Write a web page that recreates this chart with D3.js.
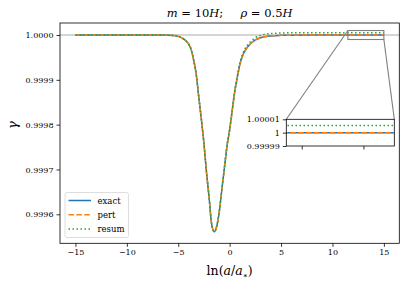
<!DOCTYPE html>
<html>
<head>
<meta charset="utf-8">
<script src="https://cdn.jsdelivr.net/npm/d3@7"></script>
<style>
  body { margin: 0; background: #fff; }
</style>
</head>
<body>
<script>
// data
var lnA = [-15, -10, -7, -6, -5.5, -5, -4.5, -4, -3.75, -3.5, -3.25, -3, -2.75, -2.5, -2.25, -2,
    -1.75, -1.5, -1.25, -1, -0.75, -0.5, -0.25, 0, 0.25, 0.5, 0.75, 1, 1.25, 1.5, 2, 2.5, 3, 4, 5, 6, 8, 10, 12, 15];
var exact = [1.0, 1.0, 0.9999999, 0.9999997, 0.999999, 0.999997, 0.9999915, 0.99998, 0.999968, 0.999944,
    0.999912, 0.999861, 0.999812, 0.999758, 0.999693, 0.999638, 0.999578, 0.999561, 0.999574, 0.999607,
    0.999657, 0.999705, 0.999753, 0.999788, 0.999831, 0.999874, 0.999906, 0.999935, 0.999953, 0.999965,
    0.99998, 0.999989, 0.999994, 0.999998, 0.9999992, 0.9999997, 0.9999999, 1.0, 1.0, 1.0];
var pert = [1.0, 1.0, 0.9999999, 0.9999997, 0.999999, 0.999997, 0.9999915, 0.99998, 0.999968, 0.999944,
    0.999912, 0.999861, 0.999812, 0.999758, 0.999693, 0.999638, 0.999578, 0.999561, 0.999574, 0.999607,
    0.999657, 0.999705, 0.999753, 0.999788, 0.999831, 0.999874, 0.999906, 0.999935, 0.999953, 0.999965,
    0.99998, 0.999989, 0.999994, 0.999998, 0.9999992, 0.9999997, 0.9999999, 1.0, 1.0, 1.0];
var resum = [1.0, 1.0, 0.9999999, 0.9999997, 0.999999, 0.999997, 0.9999915, 0.99998, 0.999968, 0.999944,
    0.999912, 0.999861, 0.999812, 0.999758, 0.999693, 0.999638, 0.9995781, 0.9995613, 0.9995745, 0.9996078,
    0.999658, 0.9997063, 0.9997547, 0.99979, 0.9998334, 0.9998768, 0.9999092, 0.9999386, 0.9999569, 0.9999692,
    0.9999846, 0.9999939, 0.9999991, 1.0000032, 1.0000045, 1.000005, 1.0000052, 1.0000053, 1.0000053, 1.0000053];
var xTicks = [-15, -10, -5, 0, 5, 10, 15];
var yTicks = [0.9996, 0.9997, 0.9998, 0.9999, 1.0];
var insetYTicks = [0.99999, 1.0, 1.00001];
var insetYLabels = ['0.99999', '1', '1.00001'];
var insetXTicks = [12, 14];

var series = [
    { name: 'exact', values: exact, color: '#1f77b4', dash: null },
    { name: 'pert', values: pert, color: '#ff7f0e', dash: '5.5,2.4' },
    { name: 'resum', values: resum, color: '#2ca02c', dash: '1.5,2.5' }
];

var FONT = 'DejaVu Serif';
var width = 407, height = 285;
var L = 60, R = 399.3, T = 23, B = 243.3;

var svg = d3.select('body').append('svg')
    .attr('width', width)
    .attr('height', height)
    .style('font-family', FONT);

var x = d3.scaleLinear().domain([-16.5, 16.5]).range([L, R]);
var y = d3.scaleLinear().domain([0.9995353, 1.0000268]).range([B, T]);

svg.append('clipPath').attr('id', 'clip')
    .append('rect').attr('x', L).attr('y', T).attr('width', R - L).attr('height', B - T);

// reference line at 1
svg.append('line')
    .attr('x1', L).attr('x2', R)
    .attr('y1', y(1)).attr('y2', y(1))
    .attr('stroke', '#a0a0a0').attr('stroke-width', 0.9);

var line = d3.line()
    .x(function (d) { return x(d[0]); })
    .y(function (d) { return y(d[1]); })
    .curve(d3.curveMonotoneX);

var plot = svg.append('g').attr('clip-path', 'url(#clip)');
series.forEach(function (s) {
    plot.append('path')
        .attr('d', line(d3.zip(lnA, s.values)))
        .attr('fill', 'none')
        .attr('stroke', s.color)
        .attr('stroke-width', 1.5)
        .attr('stroke-dasharray', s.dash);
});

// axes
var xAxis = svg.append('g')
    .attr('transform', 'translate(0,' + B + ')')
    .call(d3.axisBottom(x).tickValues(xTicks).tickSize(3.5).tickPadding(3)
        .tickFormat(function (d) { return d < 0 ? '\u2212' + Math.abs(d) : d; }));
var yAxis = svg.append('g')
    .attr('transform', 'translate(' + L + ',0)')
    .call(d3.axisLeft(y).tickValues(yTicks).tickSize(3.5).tickPadding(3)
        .tickFormat(d3.format('.4f')));
[xAxis, yAxis].forEach(function (a) {
    a.attr('font-family', null).style('font-family', FONT);
    a.select('.domain').remove();
    a.selectAll('.tick line').attr('stroke', '#000').attr('stroke-width', 0.8);
    a.selectAll('.tick text').attr('font-size', 8);
});

svg.append('rect')
    .attr('x', L).attr('y', T).attr('width', R - L).attr('height', B - T)
    .attr('fill', 'none').attr('stroke', '#000').attr('stroke-width', 0.8);

// title and labels
var title = svg.append('text')
    .attr('x', (L + R) / 2).attr('y', 17)
    .attr('text-anchor', 'middle').attr('font-size', 11.5);
title.append('tspan').attr('font-style', 'italic').text('m');
title.append('tspan').text(' = 10');
title.append('tspan').attr('font-style', 'italic').text('H');
title.append('tspan').text(';\u2003\u2002');
title.append('tspan').attr('font-style', 'italic').text('\u03c1');
title.append('tspan').text(' = 0.5');
title.append('tspan').attr('font-style', 'italic').text('H');

var xl = svg.append('text')
    .attr('x', (L + R) / 2).attr('y', 275)
    .attr('text-anchor', 'middle').attr('font-size', 12.5);
xl.append('tspan').text('ln(');
xl.append('tspan').attr('font-style', 'italic').text('a');
xl.append('tspan').text('/');
xl.append('tspan').attr('font-style', 'italic').text('a');
xl.append('tspan').attr('font-size', 7.5).attr('dy', 3).text('\u2217');
xl.append('tspan').attr('dy', -3).text(')');

svg.append('text')
    .attr('transform', 'translate(17,' + ((T + B) / 2 - 8) + ') rotate(-90)')
    .attr('text-anchor', 'middle').attr('font-size', 13).attr('font-style', 'italic')
    .text('\u03b3');

// zoom indicator
var ix0 = 11.5, ix1 = 15, iy0 = 0.99999, iy1 = 1.00001;
var IL = 286.3, IR = 394.3, IT = 119.3, IB = 146;
svg.append('rect')
    .attr('x', x(ix0)).attr('y', y(iy1))
    .attr('width', x(ix1) - x(ix0)).attr('height', y(iy0) - y(iy1))
    .attr('fill', 'none').attr('stroke', '#7f7f7f').attr('stroke-width', 1.1);
svg.append('line')
    .attr('x1', x(ix0)).attr('y1', y(iy1)).attr('x2', IL).attr('y2', IT)
    .attr('stroke', '#7f7f7f').attr('stroke-width', 1.1);
svg.append('line')
    .attr('x1', x(ix1)).attr('y1', y(iy0)).attr('x2', IR).attr('y2', IT)
    .attr('stroke', '#7f7f7f').attr('stroke-width', 1.1);

// inset
var xi = d3.scaleLinear().domain([ix0, ix1]).range([IL, IR]);
var yi = d3.scaleLinear().domain([iy0, iy1]).range([IB, IT]);
svg.append('rect').attr('x', IL).attr('y', IT).attr('width', IR - IL).attr('height', IB - IT).attr('fill', '#fff');
svg.append('clipPath').attr('id', 'clipi')
    .append('rect').attr('x', IL).attr('y', IT).attr('width', IR - IL).attr('height', IB - IT);
var lineI = d3.line()
    .x(function (d) { return xi(d[0]); })
    .y(function (d) { return yi(d[1]); })
    .curve(d3.curveMonotoneX);
var inset = svg.append('g').attr('clip-path', 'url(#clipi)');
series.forEach(function (s) {
    inset.append('path')
        .attr('d', lineI(d3.zip(lnA, s.values)))
        .attr('fill', 'none')
        .attr('stroke', s.color)
        .attr('stroke-width', 1.5)
        .attr('stroke-dasharray', s.dash);
});
var ixAxis = svg.append('g')
    .attr('transform', 'translate(0,' + IB + ')')
    .call(d3.axisBottom(xi).tickValues(insetXTicks).tickSize(3.5).tickFormat(''));
var iyAxis = svg.append('g')
    .attr('transform', 'translate(' + IL + ',0)')
    .call(d3.axisLeft(yi).tickValues(insetYTicks).tickSize(3.5).tickPadding(3)
        .tickFormat(function (d, i) { return insetYLabels[i]; }));
[ixAxis, iyAxis].forEach(function (a) {
    a.attr('font-family', null).style('font-family', FONT);
    a.select('.domain').remove();
    a.selectAll('.tick line').attr('stroke', '#000').attr('stroke-width', 0.8);
    a.selectAll('.tick text').attr('font-size', 8);
});
svg.append('rect').attr('x', IL).attr('y', IT).attr('width', IR - IL).attr('height', IB - IT)
    .attr('fill', 'none').attr('stroke', '#000').attr('stroke-width', 0.8);

// legend
var lg = svg.append('g');
lg.append('rect')
    .attr('x', 65).attr('y', 192.5).attr('width', 63.5).attr('height', 45).attr('rx', 2)
    .attr('fill', '#fff').attr('fill-opacity', 0.8)
    .attr('stroke', '#d5d5d5').attr('stroke-width', 0.8);
series.forEach(function (s, i) {
    var yy = 200.5 + i * 14.2;
    lg.append('line')
        .attr('x1', 68.5).attr('x2', 91).attr('y1', yy).attr('y2', yy)
        .attr('stroke', s.color).attr('stroke-width', 1.5)
        .attr('stroke-dasharray', s.dash);
    lg.append('text')
        .attr('x', 97.5).attr('y', yy + 3)
        .attr('font-size', 8.5)
        .text(s.name);
});
</script>
</body>
</html>
